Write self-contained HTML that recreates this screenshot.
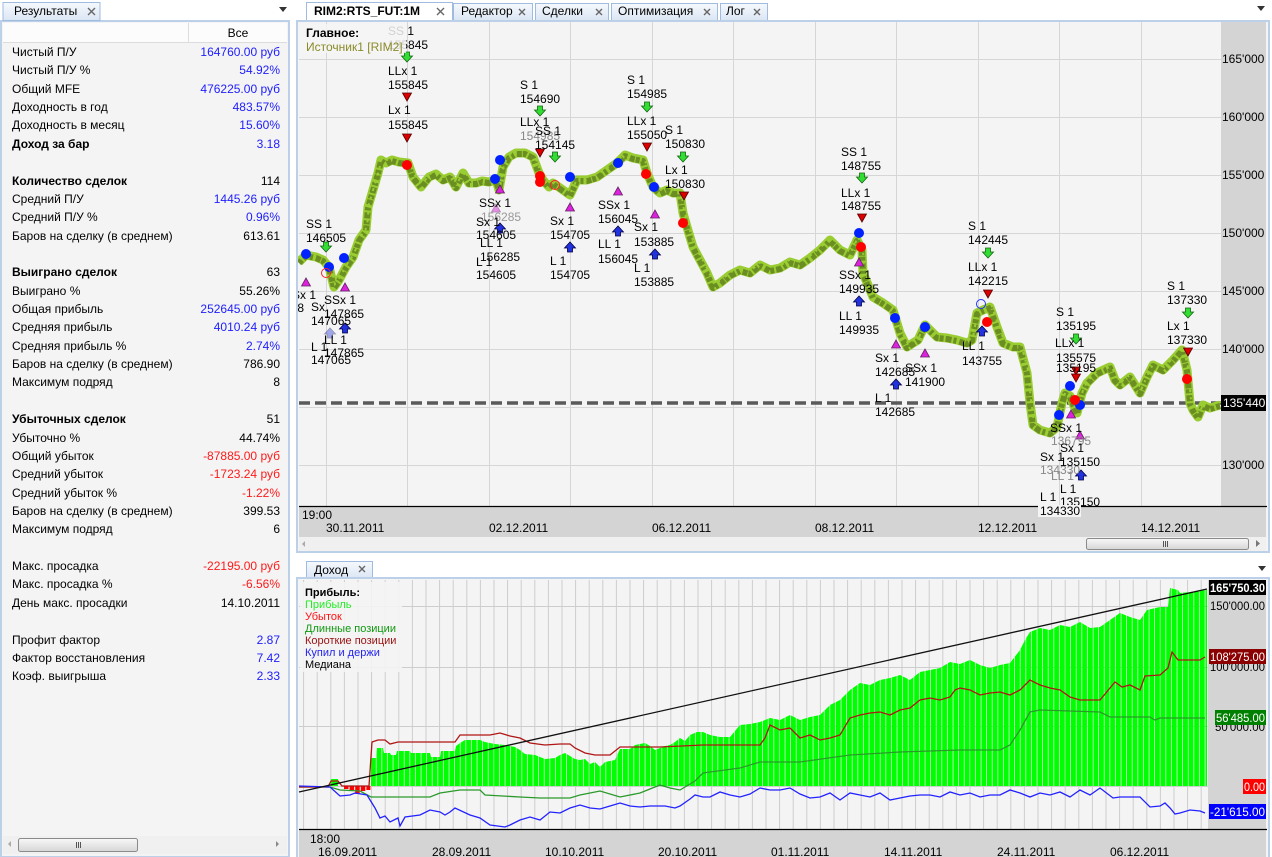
<!DOCTYPE html>
<html><head><meta charset="utf-8">
<style>
*{margin:0;padding:0;box-sizing:border-box}
body{width:1272px;height:857px;overflow:hidden;background:#fff;font-family:"Liberation Sans","DejaVu Sans",sans-serif;font-size:12px;color:#000;position:relative}
.row{position:absolute;left:12px;width:268px;height:18px;line-height:18px;white-space:nowrap;font-size:12px}
.row span{position:absolute;right:0;top:0}
.b{font-weight:bold}
.bl{color:#1d1dff}
.rd{color:#ff1a1a}
</style></head><body>

<svg width="1272" height="857" style="position:absolute;left:0;top:0" font-family="Liberation Sans, DejaVu Sans, sans-serif" font-size="12">
<defs>
 <linearGradient id="tg" x1="0" y1="0" x2="0" y2="1"><stop offset="0" stop-color="#f6f9fd"/><stop offset="1" stop-color="#dbe6f4"/></linearGradient>
 <linearGradient id="sg" x1="0" y1="0" x2="0" y2="1"><stop offset="0" stop-color="#f8f8f8"/><stop offset="1" stop-color="#d6d6d6"/></linearGradient>
 <pattern id="vg" patternUnits="userSpaceOnUse" x="303.1" y="0" width="13.6" height="10"><rect x="0" y="0" width="1" height="10" fill="#cdcdcd"/></pattern>
 <pattern id="bars" patternUnits="userSpaceOnUse" x="371" y="0" width="5.6" height="10"><rect x="0" y="0" width="4.9" height="10" fill="#00ff00"/></pattern>
 <clipPath id="pc"><rect x="298" y="22" width="923" height="500"/></clipPath>
 <g id="ga"><path d="M-2.5,-5 h5 v4 h3 l-5.5,6 l-5.5,-6 h3 z" fill="#33dd33" stroke="#116611" stroke-width="0.8"/></g>
 <g id="rt"><path d="M-4.5,-4 h9 l-4.5,8 z" fill="#dd0000" stroke="#550000" stroke-width="0.8"/></g>
 <g id="pt"><path d="M-4.5,4 h9 l-4.5,-8 z" fill="#dd22dd" stroke="#662266" stroke-width="0.8"/></g>
 <g id="ba"><path d="M-2.5,5 h5 v-4 h3 l-5.5,-6 l-5.5,6 h3 z" fill="#2233dd" stroke="#000044" stroke-width="0.8"/></g>
</defs>

<!-- ===== TOP TABS ===== -->
<rect x="453.5" y="3.5" width="79" height="17" fill="url(#tg)" stroke="#9fbbe0"/>
<rect x="535.5" y="3.5" width="73" height="17" fill="url(#tg)" stroke="#9fbbe0"/>
<rect x="611.5" y="3.5" width="106" height="17" fill="url(#tg)" stroke="#9fbbe0"/>
<rect x="720.5" y="3.5" width="47" height="17" fill="url(#tg)" stroke="#9fbbe0"/>
<rect x="306.5" y="2.5" width="146" height="19" fill="#ffffff" stroke="#9fbbe0"/>
<text x="314" y="15" font-weight="bold">RIM2:RTS_FUT:1M</text>
<text x="461" y="15">Редактор</text>
<text x="542" y="15">Сделки</text>
<text x="618" y="15">Оптимизация</text>
<text x="726" y="15">Лог</text>
<g stroke="#666" stroke-width="1.4">
 <path d="M437,8 l7,7 M444,8 l-7,7"/>
 <path d="M519,9 l6,6 M525,9 l-6,6"/>
 <path d="M596,9 l6,6 M602,9 l-6,6"/>
 <path d="M704,9 l6,6 M710,9 l-6,6"/>
 <path d="M754,9 l6,6 M760,9 l-6,6"/>
</g>
<path d="M1257,6 h8 l-4,5 z" fill="#333"/>

<!-- ===== PRICE PANEL ===== -->
<rect x="297" y="21" width="972" height="531" fill="#f4f4f4" stroke="#bcd0ea" stroke-width="2"/>
<rect x="299" y="22" width="922" height="484" fill="#f4f4f4"/>
<rect x="1221" y="22" width="45" height="485" fill="#d4d4d4"/>
<rect x="299" y="507" width="967" height="30" fill="#d4d4d4"/>
<g stroke="#d6d6d6" stroke-width="1">
 <path d="M299,59.5H1221 M299,117.5H1221 M299,175.5H1221 M299,233.5H1221 M299,291.5H1221 M299,349.5H1221 M299,407.5H1221 M299,465.5H1221"/>
 <path d="M326.5,22V506 M407.5,22V506 M489.5,22V506 M570.5,22V506 M652.5,22V506 M733.5,22V506 M815.5,22V506 M896.5,22V506 M978.5,22V506 M1059.5,22V506 M1141.5,22V506"/>
</g>
<line x1="299" y1="506.5" x2="1267" y2="506.5" stroke="#000" stroke-width="1.2"/>

<g font-size="12">
<text x="1222" y="63">165'000</text>
<text x="1222" y="121">160'000</text>
<text x="1222" y="179">155'000</text>
<text x="1222" y="237">150'000</text>
<text x="1222" y="295">145'000</text>
<text x="1222" y="353">140'000</text>
<text x="1222" y="469">130'000</text>
</g>

<text x="302" y="519">19:00</text>
<text x="326" y="532">30.11.2011</text>
<text x="489" y="532">02.12.2011</text>
<text x="652" y="532">06.12.2011</text>
<text x="815" y="532">08.12.2011</text>
<text x="978" y="532">12.12.2011</text>
<text x="1141" y="532">14.12.2011</text>

<rect x="299" y="537" width="967" height="14" fill="#f0f0f0"/>
<path d="M305,541 v6 l-3,-3 z" fill="#aaa"/>
<rect x="1086.5" y="538.5" width="162" height="11" rx="2" fill="url(#sg)" stroke="#8a8a8a"/>
<path d="M1163.5,541v6 M1165.5,541v6 M1167.5,541v6" stroke="#555" stroke-width="1"/>
<path d="M1256,540 v7 l4,-3.5 z" fill="#777"/>

<g clip-path="url(#pc)">
<line x1="299" y1="403" x2="1221" y2="403" stroke="#5a5a5a" stroke-width="3.5" stroke-dasharray="11 5"/>

<polyline fill="none" stroke="#9acd32" stroke-width="9" stroke-linejoin="round" points="299,262 306,255 316,257 323,260 329,267 334,287 339,280 346,267 353,257 359,240 366,230 368,207 373,190 378,173 381,160 386,163 392,160 399,162 408,163 413,177 421,187 429,177 436,174 443,180 450,177 456,187 463,173 469,183 476,183 482,181 489,182 496,180 499,190 503,167 509,157 516,153 525,153 533,157 539,173 543,180 549,187 553,183 563,190 570,195 577,180 587,180 597,177 607,170 617,163 625,155 633,158 643,160 647,173 653,187 660,193 667,190 673,193 680,193 683,213 687,227 693,247 700,260 707,273 713,287 720,283 730,275 740,270 750,273 760,265 770,270 780,268 790,262 800,265 810,258 820,250 830,240 840,250 850,255 857,240 862,250 863,273 873,297 883,303 893,310 900,333 907,347 913,343 918,340 925,325 930,330 937,337 947,338 957,340 967,343 972,340 977,313 983,310 990,307 997,327 1003,343 1013,347 1020,347 1027,373 1030,403 1033,425 1040,430 1050,433 1057,427 1062,403 1065,393 1070,396 1077,413 1082,393 1087,383 1097,373 1110,367 1115,380 1120,385 1130,377 1140,393 1147,377 1153,365 1163,370 1173,360 1182,350 1187,370 1190,403 1193,410 1198,417 1203,405 1210,408 1220,405"/>
<polyline fill="none" stroke="#6b8e23" stroke-width="6" stroke-dasharray="4 2 6 2 3 3 5 1" stroke-linejoin="round" transform="translate(0,1)" points="299,262 306,255 316,257 323,260 329,267 334,287 339,280 346,267 353,257 359,240 366,230 368,207 373,190 378,173 381,160 386,163 392,160 399,162 408,163 413,177 421,187 429,177 436,174 443,180 450,177 456,187 463,173 469,183 476,183 482,181 489,182 496,180 499,190 503,167 509,157 516,153 525,153 533,157 539,173 543,180 549,187 553,183 563,190 570,195 577,180 587,180 597,177 607,170 617,163 625,155 633,158 643,160 647,173 653,187 660,193 667,190 673,193 680,193 683,213 687,227 693,247 700,260 707,273 713,287 720,283 730,275 740,270 750,273 760,265 770,270 780,268 790,262 800,265 810,258 820,250 830,240 840,250 850,255 857,240 862,250 863,273 873,297 883,303 893,310 900,333 907,347 913,343 918,340 925,325 930,330 937,337 947,338 957,340 967,343 972,340 977,313 983,310 990,307 997,327 1003,343 1013,347 1020,347 1027,373 1030,403 1033,425 1040,430 1050,433 1057,427 1062,403 1065,393 1070,396 1077,413 1082,393 1087,383 1097,373 1110,367 1115,380 1120,385 1130,377 1140,393 1147,377 1153,365 1163,370 1173,360 1182,350 1187,370 1190,403 1193,410 1198,417 1203,405 1210,408 1220,405"/>
<polyline fill="none" stroke="#9acd32" stroke-width="2" stroke-dasharray="3 5 2 6" transform="translate(1,-3)" points="299,262 306,255 316,257 323,260 329,267 334,287 339,280 346,267 353,257 359,240 366,230 368,207 373,190 378,173 381,160 386,163 392,160 399,162 408,163 413,177 421,187 429,177 436,174 443,180 450,177 456,187 463,173 469,183 476,183 482,181 489,182 496,180 499,190 503,167 509,157 516,153 525,153 533,157 539,173 543,180 549,187 553,183 563,190 570,195 577,180 587,180 597,177 607,170 617,163 625,155 633,158 643,160 647,173 653,187 660,193 667,190 673,193 680,193 683,213 687,227 693,247 700,260 707,273 713,287 720,283 730,275 740,270 750,273 760,265 770,270 780,268 790,262 800,265 810,258 820,250 830,240 840,250 850,255 857,240 862,250 863,273 873,297 883,303 893,310 900,333 907,347 913,343 918,340 925,325 930,330 937,337 947,338 957,340 967,343 972,340 977,313 983,310 990,307 997,327 1003,343 1013,347 1020,347 1027,373 1030,403 1033,425 1040,430 1050,433 1057,427 1062,403 1065,393 1070,396 1077,413 1082,393 1087,383 1097,373 1110,367 1115,380 1120,385 1130,377 1140,393 1147,377 1153,365 1163,370 1173,360 1182,350 1187,370 1190,403 1193,410 1198,417 1203,405 1210,408 1220,405"/>

<use href="#ga" x="407" y="57"/><use href="#ga" x="326" y="247"/><use href="#ga" x="540" y="111"/><use href="#ga" x="555" y="157"/><use href="#ga" x="647" y="107"/><use href="#ga" x="683" y="157"/><use href="#ga" x="862" y="178"/><use href="#ga" x="988" y="253"/><use href="#ga" x="1076" y="339"/><use href="#ga" x="1188" y="313"/>
<use href="#rt" x="407" y="97"/><use href="#rt" x="407" y="138"/><use href="#rt" x="540" y="153"/><use href="#rt" x="647" y="147"/><use href="#rt" x="684" y="196"/><use href="#rt" x="862" y="218"/><use href="#rt" x="988" y="294"/><use href="#rt" x="1076" y="371"/><use href="#rt" x="1076" y="378"/><use href="#rt" x="1188" y="352"/>
<use href="#pt" x="306" y="282"/><use href="#pt" x="345" y="287"/><use href="#pt" x="500" y="189"/><use href="#pt" x="496" y="208" opacity="0.5"/><use href="#pt" x="570" y="207"/><use href="#pt" x="618" y="191"/><use href="#pt" x="655" y="214"/><use href="#pt" x="859" y="262"/><use href="#pt" x="896" y="344"/><use href="#pt" x="925" y="353"/><use href="#pt" x="1071" y="414"/><use href="#pt" x="1080" y="435"/>
<use href="#ba" x="345" y="328"/><use href="#ba" x="330" y="333" opacity="0.4"/><use href="#ba" x="500" y="228"/><use href="#ba" x="570" y="247"/><use href="#ba" x="618" y="231"/><use href="#ba" x="655" y="254"/><use href="#ba" x="859" y="301"/><use href="#ba" x="896" y="384"/><use href="#ba" x="982" y="331"/><use href="#ba" x="1081" y="475"/>
<g fill="#0022ff">
 <circle cx="306" cy="254" r="5"/><circle cx="329" cy="267" r="5"/><circle cx="344" cy="258" r="5"/><circle cx="500" cy="160" r="5"/><circle cx="495" cy="179" r="5"/><circle cx="570" cy="177" r="5"/><circle cx="618" cy="163" r="5"/><circle cx="654" cy="187" r="5"/><circle cx="859" cy="233" r="5"/><circle cx="895" cy="318" r="5"/><circle cx="925" cy="327" r="5"/><circle cx="1070" cy="386" r="5"/><circle cx="1080" cy="405" r="5"/><circle cx="1059" cy="415" r="5"/>
</g>
<g fill="#ff0000">
 <circle cx="407" cy="165" r="5"/><circle cx="540" cy="176" r="5"/><circle cx="540" cy="182" r="5"/><circle cx="646" cy="174" r="5"/><circle cx="683" cy="223" r="5"/><circle cx="861" cy="247" r="5"/><circle cx="987" cy="322" r="5"/><circle cx="1075" cy="400" r="5"/><circle cx="1187" cy="379" r="5"/>
</g>
<circle cx="326" cy="273" r="4.5" fill="none" stroke="#ff2222" stroke-width="1"/>
<circle cx="555" cy="185" r="4.5" fill="none" stroke="#ff2222" stroke-width="1"/>
<circle cx="981" cy="304" r="4.5" fill="none" stroke="#2233ff" stroke-width="1"/>

<g font-size="12" fill="#000">
<text x="388" y="35">SS 1</text><text x="388" y="49">155845</text>
<text x="388" y="75">LLx 1</text><text x="388" y="89">155845</text>
<text x="388" y="114">Lx 1</text><text x="388" y="129">155845</text>
<text x="306" y="228">SS 1</text><text x="306" y="242">146505</text>
<text x="292" y="299">Sx 1</text><text x="284" y="312">148</text>
<text x="311" y="311">Sx</text><text x="311" y="325">147065</text>
<text x="324" y="304">SSx 1</text><text x="324" y="318">147865</text>
<text x="311" y="351">L 1</text><text x="311" y="364">147065</text>
<text x="324" y="344">LL 1</text><text x="324" y="357">147865</text>
<text x="479" y="207">SSx 1</text><text x="481" y="221" fill="#999">156285</text>
<text x="476" y="226">Sx 1</text><text x="476" y="239">154605</text>
<text x="480" y="247">LL 1</text><text x="480" y="261">156285</text>
<text x="476" y="266">L 1</text><text x="476" y="279">154605</text>
<text x="520" y="89">S 1</text><text x="520" y="103">154690</text>
<text x="520" y="126">LLx 1</text><text x="520" y="140" fill="#888">154985</text>
<text x="535" y="135">SS 1</text><text x="535" y="149">154145</text>
<text x="550" y="225">Sx 1</text><text x="550" y="239">154705</text>
<text x="550" y="265">L 1</text><text x="550" y="279">154705</text>
<text x="598" y="209">SSx 1</text><text x="598" y="223">156045</text>
<text x="598" y="248">LL 1</text><text x="598" y="263">156045</text>
<text x="627" y="84">S 1</text><text x="627" y="98">154985</text>
<text x="627" y="125">LLx 1</text><text x="627" y="139">155050</text>
<text x="634" y="231">Sx 1</text><text x="634" y="246">153885</text>
<text x="634" y="272">L 1</text><text x="634" y="286">153885</text>
<text x="665" y="134">S 1</text><text x="665" y="148">150830</text>
<text x="665" y="174">Lx 1</text><text x="665" y="188">150830</text>
<text x="841" y="156">SS 1</text><text x="841" y="170">148755</text>
<text x="841" y="197">LLx 1</text><text x="841" y="210">148755</text>
<text x="839" y="279">SSx 1</text><text x="839" y="293">149935</text>
<text x="839" y="320">LL 1</text><text x="839" y="334">149935</text>
<text x="875" y="362">Sx 1</text><text x="875" y="376">142685</text>
<text x="875" y="402">L 1</text><text x="875" y="416">142685</text>
<text x="905" y="372">SSx 1</text><text x="905" y="386">141900</text>
<text x="968" y="230">S 1</text><text x="968" y="244">142445</text>
<text x="968" y="271">LLx 1</text><text x="968" y="285">142215</text>
<text x="962" y="350">LL 1</text><text x="962" y="365">143755</text>
<text x="1056" y="316">S 1</text><text x="1056" y="330">135195</text>
<text x="1055" y="347">LLx 1</text><text x="1056" y="362">135575</text><text x="1056" y="372">135195</text>
<text x="1050" y="432">SSx 1</text><text x="1051" y="445" fill="#888">136795</text>
<text x="1040" y="461">Sx 1</text><text x="1040" y="474" fill="#888">134330</text>
<text x="1060" y="452">Sx 1</text><text x="1060" y="466">135150</text>
<text x="1051" y="480" fill="#888">LL 1</text>
<text x="1060" y="493">L 1</text><text x="1060" y="506">135150</text>
<text x="1040" y="501">L 1</text>
<text x="1167" y="290">S 1</text><text x="1167" y="304">137330</text>
<text x="1167" y="330">Lx 1</text><text x="1167" y="344">137330</text>
</g>
</g>
<rect x="1038" y="505" width="43" height="12" fill="#f4f4f4"/>
<text x="1040" y="515">134330</text>

<rect x="300" y="24" width="106" height="29" fill="#f4f4f4" opacity="0.85"/>
<text x="306" y="37" font-weight="bold">Главное:</text>
<text x="306" y="51" fill="#8a8a2a">Источник1 [RIM2]</text>

<rect x="1221" y="395" width="45" height="16" fill="#000"/>
<text x="1223" y="407" fill="#fff" font-size="12">135'440</text>

<!-- ===== BOTTOM PANEL ===== -->
<rect x="306.5" y="561.5" width="66" height="17" fill="url(#tg)" stroke="#9fbbe0"/>
<text x="314" y="574">Доход</text>
<path d="M359,566 l6,6 M365,566 l-6,6" stroke="#666" stroke-width="1.4"/>
<path d="M1258,566 h8 l-4,5 z" fill="#333"/>

<rect x="297" y="578" width="972" height="280" fill="#f4f4f4" stroke="#bcd0ea" stroke-width="2"/>
<rect x="299" y="580" width="909" height="249" fill="#f4f4f4"/>
<rect x="299" y="580" width="909" height="249" fill="url(#vg)"/>
<g stroke="#cdcdcd"><path d="M299,606.5H1208 M299,667.5H1208 M299,726.5H1208 M299,786.5H1208"/></g>
<rect x="1208" y="580" width="58" height="250" fill="#d4d4d4"/>
<rect x="299" y="830" width="967" height="27" fill="#d4d4d4"/>
<line x1="299" y1="829.5" x2="1267" y2="829.5" stroke="#000" stroke-width="1.2"/>

<polygon fill="url(#bars)" points="371,786 371,758 376,758 377,748 383,748 384,753 390,753 391,755 396,755 397,751 410,751 411,753 430,753 431,757 440,757 441,751 455,751 456,746 460,743 465,740 480,740 485,742 495,744 505,745 515,747 520,750 525,754 535,755 545,759 555,758 560,755 565,753 570,756 575,759 580,760 585,759 590,764 595,762 600,767 605,762 615,760 620,749 630,749 635,745 645,743 650,746 655,750 660,748 665,746 670,745 675,742 680,738 685,741 690,735 697,732 703,732 710,735 720,737 730,737 740,725 750,724 760,722 770,718 780,720 790,715 800,720 810,717 820,715 830,705 840,700 850,690 860,683 870,685 880,680 890,678 900,675 910,680 920,672 930,670 940,668 950,662 960,664 970,660 980,665 990,668 1000,665 1010,663 1020,650 1025,640 1030,632 1040,628 1050,630 1060,625 1070,627 1080,622 1090,628 1100,627 1110,620 1120,613 1130,617 1140,620 1147,610 1160,607 1168,607 1170,588 1178,590 1180,593 1190,592 1207,590 1207,786"/>
<rect x="331" y="779" width="7" height="7" fill="#00ff00"/>
<g fill="#ff0000">
 <rect x="344" y="786" width="4.5" height="3"/><rect x="349.6" y="786" width="4.5" height="4"/><rect x="355.2" y="786" width="4.5" height="8"/><rect x="360.8" y="786" width="4.5" height="5"/><rect x="366.4" y="786" width="4" height="4"/>
</g>

<polyline fill="none" stroke="#2a9a2a" stroke-width="1.3" points="299,787 330,787 340,790 360,791 371,797 430,797 440,793 460,790 480,790 485,795 520,797 540,798 570,798 580,795 600,791 620,797 640,793 660,785 670,788 680,790 695,781 703,773 710,772 740,768 760,762 800,762 850,755 900,752 960,750 1000,750 1010,745 1020,730 1030,712 1040,710 1100,712 1110,717 1150,717 1155,720 1160,718 1205,718"/>
<polyline fill="none" stroke="#b01515" stroke-width="1.3" points="299,787 328,787 331,781 338,781 342,786 369,786 372,742 378,740 385,740 390,744 398,742 455,742 460,735 490,735 500,733 510,736 520,738 530,743 545,745 560,744 570,744 575,748 585,753 595,755 610,755 620,747 660,747 703,745 760,745 765,738 770,725 780,730 790,728 800,738 810,735 820,740 830,738 840,735 850,718 860,715 870,713 880,712 890,715 900,710 910,708 920,700 930,698 940,700 950,697 955,690 960,688 970,690 980,695 990,693 1000,692 1010,695 1020,690 1030,680 1040,685 1050,688 1060,690 1070,697 1080,700 1100,700 1115,682 1122,687 1130,685 1140,690 1145,676 1160,675 1168,668 1172,652 1178,660 1200,660 1205,657"/>
<polyline fill="none" stroke="#2222ff" stroke-width="1.3" points="299,786 330,787 340,796 350,795 355,793 367,795 375,808 380,818 385,816 390,822 398,818 400,826 405,817 420,815 430,810 440,812 445,815 450,812 455,808 470,815 480,818 490,825 505,827 510,825 520,820 530,817 540,820 550,812 560,813 570,808 580,805 590,808 600,809 610,806 620,803 630,806 640,807 650,806 665,806 675,808 680,806 690,799 695,795 703,797 710,797 720,792 730,795 740,797 750,794 760,788 770,790 780,790 790,788 800,794 810,798 820,797 830,793 840,800 850,793 860,795 870,797 880,793 890,800 900,798 910,796 920,795 930,795 940,797 950,792 960,795 970,793 980,797 990,795 1000,795 1010,790 1020,793 1030,797 1040,793 1050,795 1060,792 1070,797 1080,790 1090,795 1100,788 1113,798 1120,797 1140,797 1150,807 1160,806 1165,803 1170,808 1175,814 1180,813 1190,810 1200,811 1205,813"/>
<line x1="299" y1="792" x2="1207" y2="589" stroke="#111" stroke-width="1.3"/>

<rect x="300" y="582" width="102" height="90" fill="#f4f4f4" opacity="0.9"/>
<g font-size="11">
<text x="305" y="596" font-weight="bold">Прибыль:</text>
<text x="305" y="608" fill="#22ee22">Прибыль</text>
<text x="305" y="620" fill="#ff1111">Убыток</text>
<text x="305" y="632" fill="#119911">Длинные позиции</text>
<text x="305" y="644" fill="#991111">Короткие позиции</text>
<text x="305" y="656" fill="#2222ee">Купил и держи</text>
<text x="305" y="668" fill="#000">Медиана</text>
</g>

<g font-size="11.5">
<text x="1210" y="610" textLength="55" lengthAdjust="spacingAndGlyphs">150'000.00</text>
<text x="1210" y="671" textLength="55" lengthAdjust="spacingAndGlyphs">100'000.00</text>
<text x="1215" y="731" textLength="50" lengthAdjust="spacingAndGlyphs">50'000.00</text>
<rect x="1209" y="580" width="57" height="15" fill="#000"/>
<text x="1210" y="592" fill="#fff" font-weight="bold" textLength="55" lengthAdjust="spacingAndGlyphs">165'750.30</text>
<rect x="1209" y="649" width="57" height="15" fill="#8b0000"/>
<text x="1210" y="661" fill="#fff" textLength="55" lengthAdjust="spacingAndGlyphs">108'275.00</text>
<rect x="1215" y="710" width="51" height="15" fill="#008000"/>
<text x="1216" y="722" fill="#fff" textLength="49" lengthAdjust="spacingAndGlyphs">56'485.00</text>
<rect x="1243" y="779" width="23" height="15" fill="#ff0000"/>
<text x="1244" y="791" fill="#fff" textLength="21" lengthAdjust="spacingAndGlyphs">0.00</text>
<rect x="1209" y="804" width="57" height="15" fill="#0000ff"/>
<text x="1210" y="816" fill="#fff" textLength="55" lengthAdjust="spacingAndGlyphs">-21'615.00</text>
</g>

<text x="310" y="843">18:00</text>
<text x="318" y="856">16.09.2011</text>
<text x="432" y="856">28.09.2011</text>
<text x="545" y="856">10.10.2011</text>
<text x="658" y="856">20.10.2011</text>
<text x="771" y="856">01.11.2011</text>
<text x="884" y="856">14.11.2011</text>
<text x="997" y="856">24.11.2011</text>
<text x="1110" y="856">06.12.2011</text>

<!-- ===== LEFT PANEL ===== -->
<rect x="1" y="21" width="288" height="836" fill="#f4f4f4" stroke="#bcd0ea" stroke-width="2"/>
<rect x="3" y="2.5" width="97" height="18" fill="url(#tg)" stroke="#9fbbe0"/>
<text x="14" y="15">Результаты</text>
<path d="M88,8 l7,7 M95,8 l-7,7" stroke="#666" stroke-width="1.4"/>
<path d="M279,7 h8 l-4,5 z" fill="#333"/>
<rect x="3" y="23" width="284" height="19" fill="#fcfcfc"/>
<line x1="3" y1="42.5" x2="287" y2="42.5" stroke="#dcdcdc"/>
<line x1="188.5" y1="23" x2="188.5" y2="42" stroke="#dcdcdc"/>
<text x="238" y="37" text-anchor="middle">Все</text>
<rect x="3" y="836" width="284" height="18" fill="#f0f0f0"/>
<path d="M11,841 v6 l-3,-3 z" fill="#aaa"/>
<rect x="18.5" y="838.5" width="119" height="13" rx="2" fill="url(#sg)" stroke="#8a8a8a"/>
<path d="M76.5,842v6 M78.5,842v6 M80.5,842v6" stroke="#555" stroke-width="1"/>
<path d="M276,841 v6 l3,-3 z" fill="#888"/>
</svg>

<div class="row" style="top:43px">Чистый П/У<span class="bl">164760.00 руб</span></div>
<div class="row" style="top:61.36px">Чистый П/У %<span class="bl">54.92%</span></div>
<div class="row" style="top:79.72px">Общий MFE<span class="bl">476225.00 руб</span></div>
<div class="row" style="top:98.08px">Доходность в год<span class="bl">483.57%</span></div>
<div class="row" style="top:116.44px">Доходность в месяц<span class="bl">15.60%</span></div>
<div class="row b" style="top:134.8px">Доход за бар<span class="bl" style="font-weight:normal">3.18</span></div>
<div class="row b" style="top:171.52px">Количество сделок<span style="font-weight:normal">114</span></div>
<div class="row" style="top:189.88px">Средний П/У<span class="bl">1445.26 руб</span></div>
<div class="row" style="top:208.24px">Средний П/У %<span class="bl">0.96%</span></div>
<div class="row" style="top:226.6px">Баров на сделку (в среднем)<span>613.61</span></div>
<div class="row b" style="top:263.32px">Выиграно сделок<span style="font-weight:normal">63</span></div>
<div class="row" style="top:281.68px">Выиграно %<span>55.26%</span></div>
<div class="row" style="top:300.04px">Общая прибыль<span class="bl">252645.00 руб</span></div>
<div class="row" style="top:318.4px">Средняя прибыль<span class="bl">4010.24 руб</span></div>
<div class="row" style="top:336.76px">Средняя прибыль %<span class="bl">2.74%</span></div>
<div class="row" style="top:355.12px">Баров на сделку (в среднем)<span>786.90</span></div>
<div class="row" style="top:373.48px">Максимум подряд<span>8</span></div>
<div class="row b" style="top:410.2px">Убыточных сделок<span style="font-weight:normal">51</span></div>
<div class="row" style="top:428.56px">Убыточно %<span>44.74%</span></div>
<div class="row" style="top:446.92px">Общий убыток<span class="rd">-87885.00 руб</span></div>
<div class="row" style="top:465.28px">Средний убыток<span class="rd">-1723.24 руб</span></div>
<div class="row" style="top:483.64px">Средний убыток %<span class="rd">-1.22%</span></div>
<div class="row" style="top:502px">Баров на сделку (в среднем)<span>399.53</span></div>
<div class="row" style="top:520.36px">Максимум подряд<span>6</span></div>
<div class="row" style="top:557.08px">Макс. просадка<span class="rd">-22195.00 руб</span></div>
<div class="row" style="top:575.44px">Макс. просадка %<span class="rd">-6.56%</span></div>
<div class="row" style="top:593.8px">День макс. просадки<span>14.10.2011</span></div>
<div class="row" style="top:630.52px">Профит фактор<span class="bl">2.87</span></div>
<div class="row" style="top:648.88px">Фактор восстановления<span class="bl">7.42</span></div>
<div class="row" style="top:667.24px">Коэф. выигрыша<span class="bl">2.33</span></div>

</body></html>
